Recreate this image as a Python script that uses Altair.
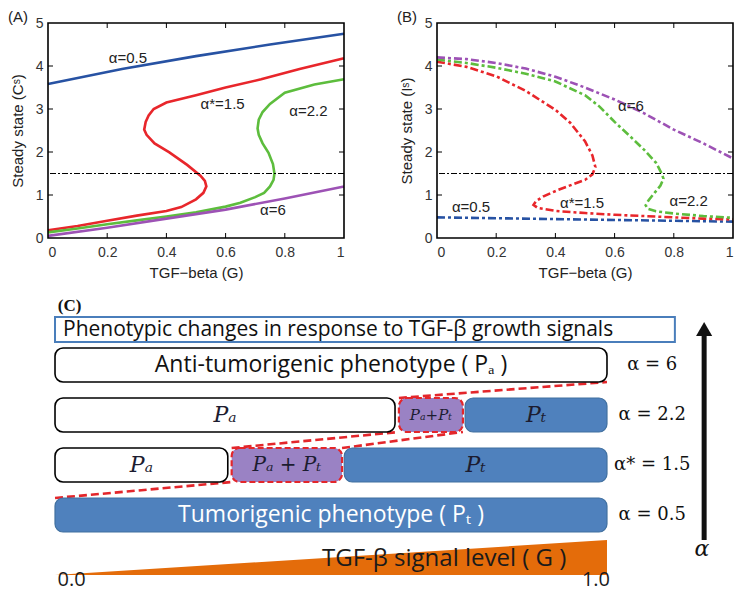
import altair as alt
import pandas as pd

# ---------------- Panel A : steady state C^s ----------------
a_blue_g = [0, 0.25, 0.5, 0.75, 1.0]
a_blue_v = [3.58, 3.93, 4.23, 4.5, 4.75]
a_red_g = [0, 0.1, 0.2, 0.3, 0.4, 0.45, 0.5, 0.525, 0.535, 0.53, 0.515, 0.47, 0.41, 0.36, 0.333,
           0.325, 0.33, 0.34, 0.357, 0.4, 0.5, 0.6, 0.72, 0.85, 1.0]
a_red_v = [0.18, 0.28, 0.4, 0.52, 0.63, 0.72, 0.9, 1.05, 1.2, 1.33, 1.45, 1.7, 1.99, 2.2, 2.4,
           2.52, 2.7, 2.85, 3.0, 3.15, 3.32, 3.5, 3.69, 3.93, 4.18]
a_green_g = [0, 0.1, 0.2, 0.3, 0.4, 0.5, 0.6, 0.65, 0.7, 0.73, 0.75, 0.762, 0.765, 0.76, 0.745,
             0.725, 0.712, 0.708, 0.712, 0.725, 0.75, 0.8, 0.9, 1.0]
a_green_v = [0.13, 0.22, 0.32, 0.41, 0.5, 0.6, 0.73, 0.82, 0.95, 1.05, 1.2, 1.35, 1.5, 1.72, 1.98,
             2.2, 2.4, 2.55, 2.75, 2.93, 3.12, 3.38, 3.57, 3.69]
a_purple_g = [0, 0.2, 0.4, 0.6, 0.8, 1.0]
a_purple_v = [0.05, 0.24, 0.45, 0.66, 0.92, 1.2]

# ---------------- Panel B : steady state I^s ----------------
b_blue_g = [0, 0.5, 1.0]
b_blue_v = [0.48, 0.43, 0.38]
b_red_g = [0, 0.1, 0.2, 0.3, 0.4, 0.45, 0.5, 0.525, 0.535, 0.525, 0.5, 0.46, 0.41, 0.36, 0.335,
           0.326, 0.34, 0.4, 0.5, 0.6, 0.7, 0.8, 0.9, 1.0]
b_red_v = [4.1, 3.98, 3.76, 3.42, 2.98, 2.68, 2.25, 1.92, 1.65, 1.48, 1.35, 1.25, 1.12, 0.97, 0.86,
           0.77, 0.7, 0.63, 0.58, 0.54, 0.51, 0.48, 0.45, 0.43]
b_green_g = [0, 0.1, 0.2, 0.3, 0.4, 0.5, 0.55, 0.6, 0.65, 0.7, 0.74, 0.759, 0.765, 0.755, 0.735,
             0.715, 0.705, 0.712, 0.74, 0.8, 0.9, 1.0]
b_green_v = [4.15, 4.07, 3.96, 3.82, 3.64, 3.32, 3.05, 2.7, 2.38, 2.05, 1.75, 1.5, 1.38, 1.22, 1.05,
             0.88, 0.76, 0.68, 0.62, 0.57, 0.51, 0.47]
b_purple_g = [0, 0.1, 0.2, 0.3, 0.4, 0.5, 0.6, 0.7, 0.8, 0.9, 1.0]
b_purple_v = [4.2, 4.16, 4.07, 3.94, 3.75, 3.5, 3.22, 2.9, 2.52, 2.2, 1.85]

series_colors = ["#2752a3", "#e8262b", "#5dbd3d", "#9d52b5"]
threshold = [1.5]
x_ticks = [0, 0.2, 0.4, 0.6, 0.8, 1.0]
y_ticks = [0, 1, 2, 3, 4, 5]

a_label_text = ["α=0.5", "α*=1.5", "α=2.2", "α=6"]
a_label_g = [0.27, 0.59, 0.88, 0.76]
a_label_v = [4.18, 3.12, 2.96, 0.64]
b_label_text = ["α=0.5", "α*=1.5", "α=2.2", "α=6"]
b_label_g = [0.115, 0.49, 0.85, 0.655]
b_label_v = [0.71, 0.82, 0.86, 3.08]

# ---------------- Panel C : diagram ----------------
c_row_labels = ["α  =  6", "α  =  2.2", "α*  =  1.5", "α  =  0.5"]
seg_row = [0, 1, 1, 1, 2, 2, 2, 3]
seg_start = [0, 0, 0.623, 0.743, 0, 0.32, 0.524, 0]
seg_end = [1, 0.616, 0.739, 1, 0.313, 0.52, 1, 1]
seg_kind = ["a", "a", "mix", "t", "a", "mix", "t", "t"]
seg_text = ["Anti-tumorigenic phenotype ( Pₐ )", "Pₐ", "Pₐ+Pₜ", "Pₜ", "Pₐ", "Pₐ + Pₜ", "Pₜ",
            "Tumorigenic phenotype (  Pₜ )"]
c_title = "Phenotypic changes in response to TGF-β growth signals"
signal_g = [0, 1]
signal_text = "TGF-β signal level ( G )"
signal_ticks = ["0.0", "1.0"]

FONT = "Liberation Sans"
W, H = 296, 215

xs = alt.Scale(domain=[0, 1], nice=False)
ys = alt.Scale(domain=[0, 5], nice=False)
AX = dict(labelFont=FONT, labelFontSize=14, labelColor="#333", titleFont=FONT, titleFontSize=15,
          titleFontWeight="normal", titleColor="#222", ticks=False, domain=False, grid=False)


def panel(parts, ytitle, dash, lab_t, lab_g, lab_v, tag):
    x_ax = alt.Axis(values=x_ticks, format="~g", title="TGF−beta (G)", labelPadding=7,
                    titlePadding=6, **AX)
    y_ax = alt.Axis(values=y_ticks, format="d", title=ytitle, labelPadding=5, titlePadding=10, **AX)

    def X(f="G:Q"):
        return alt.X(f, scale=xs, axis=x_ax)

    def Y(f="V:Q"):
        return alt.Y(f, scale=ys, axis=y_ax)

    layers = []
    for (gs, vs), col in zip(parts, series_colors):
        df = pd.DataFrame({"G": gs, "V": vs, "idx": list(range(len(gs)))})
        kw = dict(strokeWidth=2.6, color=col)
        if dash:
            kw["strokeDash"] = dash
        layers.append(alt.Chart(df).mark_line(**kw).encode(x=X(), y=Y(), order="idx:Q"))
    thr = alt.Chart(pd.DataFrame({"V": threshold})).mark_rule(
        color="black", strokeWidth=1.2, strokeDash=[6, 2, 2, 2]).encode(y=Y())
    tdf_x = pd.DataFrame({"G": x_ticks[1:-1]})
    tdf_y = pd.DataFrame({"V": y_ticks[1:-1]})
    tb = alt.Chart(tdf_x).mark_rule(color="black").encode(x=X(), y=alt.value(H), y2=alt.value(H - 5))
    tt = alt.Chart(tdf_x).mark_rule(color="black").encode(x=X(), y=alt.value(0), y2=alt.value(5))
    tl = alt.Chart(tdf_y).mark_rule(color="black").encode(y=Y(), x=alt.value(0), x2=alt.value(5))
    tr = alt.Chart(tdf_y).mark_rule(color="black").encode(y=Y(), x=alt.value(W - 5), x2=alt.value(W))
    box = alt.Chart(pd.DataFrame({"t": [tag]})).mark_rect(
        fill="transparent", stroke="black", strokeWidth=1.6).encode(
        x=alt.value(0), x2=alt.value(W), y=alt.value(0), y2=alt.value(H))
    labs = alt.Chart(pd.DataFrame({"G": lab_g, "V": lab_v, "t": lab_t})).mark_text(
        fontSize=15, font=FONT, color="#222").encode(x=X(), y=Y(), text="t:N")
    tagc = alt.Chart(pd.DataFrame({"t": [tag]})).mark_text(
        fontSize=15, font=FONT, color="#222").encode(
        text="t:N", x=alt.value(-30), y=alt.value(-6))
    return alt.layer(*layers, thr, tb, tt, tl, tr, box, labs, tagc).properties(width=W, height=H)


chart_a = panel([(a_blue_g, a_blue_v), (a_red_g, a_red_v), (a_green_g, a_green_v),
                 (a_purple_g, a_purple_v)], "Steady state (Cˢ)", None,
                a_label_text, a_label_g, a_label_v, "(A)")
chart_b = panel([(b_blue_g, b_blue_v), (b_red_g, b_red_v), (b_green_g, b_green_v),
                 (b_purple_g, b_purple_v)], "Steady state (Iˢ)", [8, 3, 3, 3],
                b_label_text, b_label_g, b_label_v, "(B)")
top = alt.hconcat(chart_a, chart_b, spacing=47)

# ---- panel C layout ----
CW, CH = 686, 282
cx = alt.Scale(domain=[-0.0127, 1.2301], nice=False, zero=False)
cy = alt.Scale(domain=[0, CH], reverse=True, nice=False, zero=False)
ROW0, ROWSTEP, ROWH = 45, 50, 34


def CX(f):
    return alt.X(f, scale=cx, axis=None)


def CY(f):
    return alt.Y(f, scale=cy, axis=None)


segs = pd.DataFrame({"row": seg_row, "g0": seg_start, "g1": seg_end, "kind": seg_kind, "t": seg_text})
segs["y0"] = ROW0 + ROWSTEP * segs["row"]
segs["y1"] = segs["y0"] + ROWH
segs["ym"] = (segs["y0"] + segs["y1"]) / 2
segs["gm"] = (segs["g0"] + segs["g1"]) / 2
segs["long"] = (segs["t"].str.len() > 10).astype(int)


def crect(kind, **kw):
    return alt.Chart(segs[segs["kind"] == kind]).mark_rect(cornerRadius=8, **kw).encode(
        x=CX("g0:Q"), x2="g1:Q", y=CY("y0:Q"), y2="y1:Q")


rect_a = crect("a", fill="white", stroke="black", strokeWidth=1.6)
rect_t = crect("t", fill="#4f81bd", stroke="#41709f", strokeWidth=1.2)
rect_m = crect("mix", fill="#9a82c4", stroke="#e3262b", strokeWidth=2.2, strokeDash=[6, 3])

txt_long_a = alt.Chart(segs[(segs["long"] == 1) & (segs["kind"] == "a")]).mark_text(
    fontSize=23, font="Open Sans", color="#111").encode(x=CX("gm:Q"), y=CY("ym:Q"), text="t:N")
txt_long_t = alt.Chart(segs[(segs["long"] == 1) & (segs["kind"] == "t")]).mark_text(
    fontSize=23, font="Open Sans", color="white").encode(x=CX("gm:Q"), y=CY("ym:Q"), text="t:N")
txt_short = alt.Chart(segs[(segs["long"] == 0) & (segs["kind"] != "mix")]).mark_text(
    fontSize=22, font="DejaVu Serif", fontStyle="italic", color="#1c1c30").encode(
    x=CX("gm:Q"), y=CY("ym:Q"), text="t:N")
txt_mix_small = alt.Chart(segs[(segs["kind"] == "mix") & (segs["row"] == 1)]).mark_text(
    fontSize=15, font="DejaVu Serif", fontStyle="italic", color="#1c1c30").encode(
    x=CX("gm:Q"), y=CY("ym:Q"), text="t:N")
txt_mix_big = alt.Chart(segs[(segs["kind"] == "mix") & (segs["row"] == 2)]).mark_text(
    fontSize=20, font="DejaVu Serif", fontStyle="italic", color="#1c1c30").encode(
    x=CX("gm:Q"), y=CY("ym:Q"), text="t:N")

# red dashed connectors built from the bistable (mix) segments
mix = segs[segs["kind"] == "mix"].sort_values("row", ascending=False).reset_index(drop=True)
row_low = mix.iloc[0]   # alpha* = 1.5 row
row_hi = mix.iloc[1]    # alpha = 2.2 row
conn = []


def add_line(k, p, q):
    conn.append({"k": k, "G": float(p[0]), "Y": float(p[1]), "o": 0})
    conn.append({"k": k, "G": float(q[0]), "Y": float(q[1]), "o": 1})


add_line(1, (0, ROW0 + ROWSTEP * 3), (row_low["g0"], row_low["y1"]))
add_line(2, (row_low["g0"], row_low["y0"]), (row_hi["g0"], row_hi["y1"]))
add_line(3, (row_low["g1"], row_low["y0"]), (row_hi["g1"], row_hi["y1"]))
add_line(4, (row_hi["g0"], row_hi["y0"]), (1.0, ROW0 + ROWH))
conn_c = alt.Chart(pd.DataFrame(conn)).mark_line(
    color="#e3262b", strokeWidth=2.6, strokeDash=[8, 4]).encode(
    x=CX("G:Q"), y=CY("Y:Q"), detail="k:N", order="o:Q")

# title box
tbox = alt.Chart(pd.DataFrame({"g0": [0.0], "g1": [1.123], "y0": [14], "y1": [39], "ym": [26.5],
                               "t": [c_title]}))
tbox_r = tbox.mark_rect(fill="white", stroke="#4a7ebb", strokeWidth=2).encode(
    x=CX("g0:Q"), x2="g1:Q", y=CY("y0:Q"), y2="y1:Q")
tbox_t = tbox.mark_text(fontSize=21, font="Open Sans", align="left", color="#111", dx=8).encode(
    x=CX("g0:Q"), y=CY("ym:Q"), text="t:N")

clabel = alt.Chart(pd.DataFrame({"t": ["(C)"], "g": [0.005], "y": [3]})).mark_text(
    fontSize=17, font="Liberation Serif", fontWeight="bold", align="left", color="#111").encode(
    x=CX("g:Q"), y=CY("y:Q"), text="t:N")

rl = pd.DataFrame({"t": c_row_labels, "row": [0, 1, 2, 3]})
rl["y"] = ROW0 + ROWSTEP * rl["row"] + ROWH / 2
rl["g"] = 1.082
rowlab = alt.Chart(rl).mark_text(fontSize=18, font="DejaVu Serif", color="#111").encode(
    x=CX("g:Q"), y=CY("y:Q"), text="t:N")

# signal wedge
wedge = alt.Chart(pd.DataFrame({"G": signal_g, "top": [272, 237], "bot": [272, 272]})).mark_area(
    color="#e46c0a").encode(x=CX("G:Q"), y=CY("top:Q"), y2="bot:Q")
wedge_t = alt.Chart(pd.DataFrame({"t": [signal_text], "g": [0.705], "y": [256]})).mark_text(
    fontSize=24, font="Open Sans", color="#1a1a1a").encode(x=CX("g:Q"), y=CY("y:Q"), text="t:N")
wedge_ticks = alt.Chart(pd.DataFrame({"t": signal_ticks, "g": [0.03, 0.98], "y": [277, 277]})).mark_text(
    fontSize=20, font="Open Sans", color="#1a1a1a").encode(x=CX("g:Q"), y=CY("y:Q"), text="t:N")

# alpha arrow
arrow = alt.Chart(pd.DataFrame({"g": [1.176], "y0": [30], "y1": [237]})).mark_rule(
    color="#111", strokeWidth=5).encode(x=CX("g:Q"), y=CY("y0:Q"), y2="y1:Q")
arrow_head = alt.Chart(pd.DataFrame({"g": [1.176], "y": [26]})).mark_point(
    shape="triangle-up", filled=True, color="#111", size=260, opacity=1).encode(
    x=CX("g:Q"), y=CY("y:Q"))
arrow_t = alt.Chart(pd.DataFrame({"g": [1.172], "y": [246], "t": ["α"]})).mark_text(
    fontSize=22, font="DejaVu Serif", fontStyle="italic", color="#111").encode(
    x=CX("g:Q"), y=CY("y:Q"), text="t:N")

chart_c = alt.layer(conn_c, rect_a, rect_t, rect_m, txt_long_a, txt_long_t, txt_short,
                    txt_mix_small, txt_mix_big, tbox_r, tbox_t, clabel, rowlab, wedge, wedge_t,
                    wedge_ticks, arrow, arrow_head, arrow_t).properties(width=CW, height=CH)

chart = alt.vconcat(top, chart_c, spacing=17).properties(
    padding={"left": 0, "top": 2, "right": 0, "bottom": 0}
).configure_view(strokeWidth=0).configure_axis(
    labelFont=FONT, labelFontSize=14, labelColor="#333", titleFont=FONT, titleFontSize=15,
    titleFontWeight="normal", titleColor="#222", ticks=False, domain=False, grid=False
)

chart.save("out.html", embed_options={"renderer": "svg", "actions": False})
